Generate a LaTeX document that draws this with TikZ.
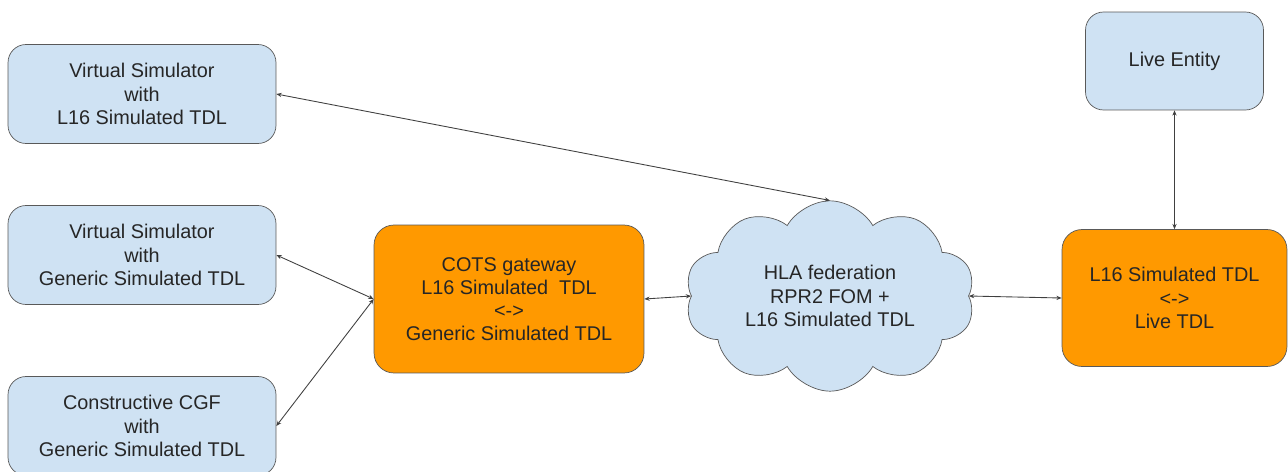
\documentclass[tikz,border=0pt]{standalone}
\usepackage{fontspec}
\setmainfont{Liberation Sans}
\usepackage{tikz}
\usetikzlibrary{ shapes.symbols, % For the cloud
                 arrows.meta,    % For the small tips
               }

\definecolor{simblue}{HTML}{CFE2F3}
\definecolor{gworange}{HTML}{FF9900}
\definecolor{edgegray}{HTML}{595959}

\begin{document}
\begin{tikzpicture}[x=0.02cm, y=-0.02cm,
    every node/.style={font=\fontsize{11.3}{13.2}\selectfont, align=center, text=black!85},
    simbox/.style={draw=edgegray, fill=simblue, rounded corners=0.36cm,
                   minimum width=5.36cm, minimum height=1.98cm},
    gwbox/.style={draw=edgegray, fill=gworange, rounded corners=0.4cm},
    link/.style={draw=black!75, line width=0.5pt,
                 {Stealth[length=3pt,width=2.4pt]}-{Stealth[length=3pt,width=2.4pt]}}]
    \useasboundingbox (0,0) rectangle (1288,471);
    \node[simbox] (vsl) at (142,94) {Virtual Simulator\\with\\L16 Simulated TDL};
    \node[simbox] (vsg) at (142,255) {Virtual Simulator\\with\\Generic Simulated TDL};
    \node[simbox] (cgf) at (142,426) {Constructive CGF\\with\\Generic Simulated TDL};
    \node[gwbox, minimum width=5.4cm, minimum height=2.96cm] (cots) at (509,299)
        {COTS gateway\\L16 Simulated\ \ TDL\\<->\\Generic Simulated TDL};
    \node[cloud, cloud puffs=10, cloud puff arc=120, aspect=1.55, draw=edgegray, fill=simblue,
          minimum width=5.8cm, minimum height=3.8cm, inner sep=0pt] (hla) at (830,296)
        {HLA federation\\RPR2 FOM +\\L16 Simulated TDL};
    \node[gwbox, minimum width=4.5cm, minimum height=2.74cm] (live) at (1174.5,298)
        {L16 Simulated TDL\\<->\\Live TDL};
    \node[simbox, minimum width=3.56cm, minimum height=1.96cm] (ent) at (1174.5,61) {Live Entity};
    \draw[link] (vsl.east) -- (hla.north);
    \draw[link] (vsg.east) -- (cots.west);
    \draw[link] (cgf.east) -- (cots.west);
    \draw[link] (cots.east) -- (hla.west);
    \draw[link] (hla.east) -- (live.west);
    \draw[link] (ent.south) -- (live.north);
  \end{tikzpicture}
\end{document}
